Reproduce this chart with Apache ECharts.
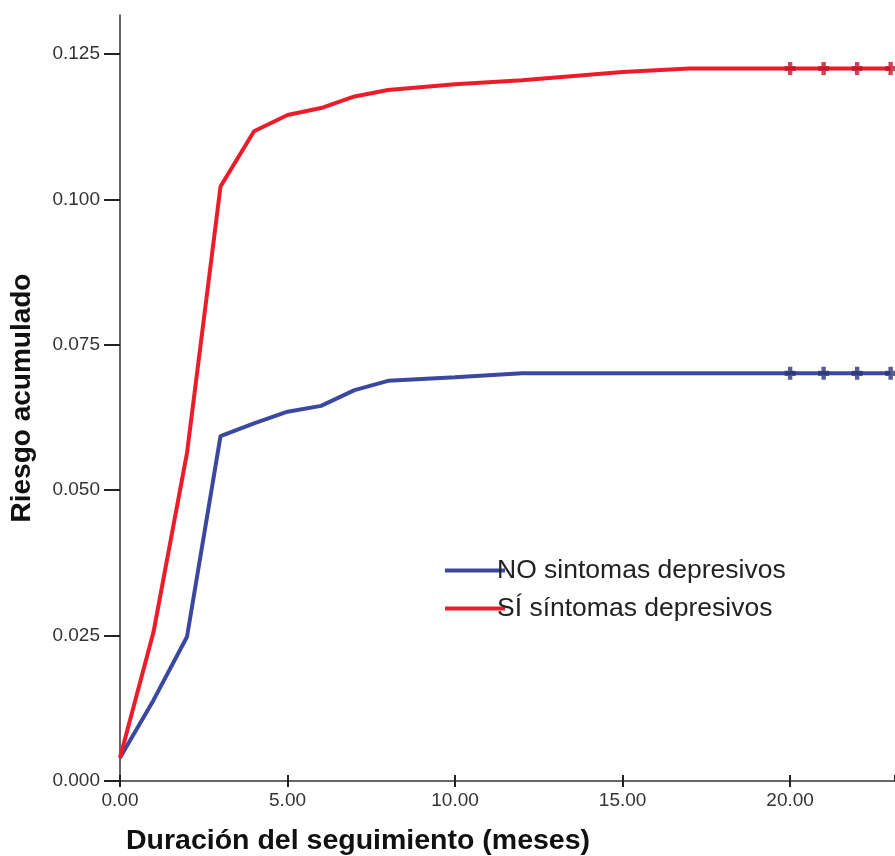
<!DOCTYPE html>
<html>
<head>
<meta charset="utf-8">
<script src="https://cdn.jsdelivr.net/npm/echarts@6/dist/echarts.min.js"></script>
<style>html,body{margin:0;padding:0;background:#fff}#c{width:895px;height:856px}</style>
</head>
<body>
<div id="c"></div>
<script>
const tiempo = [0, 1, 2, 3, 4, 5, 6, 7, 8, 10, 12, 15, 17, 20, 21, 22, 23];
const riesgoNo = [0.004, 0.0139, 0.0248, 0.0593, 0.0615, 0.0635, 0.0645, 0.0672, 0.0688, 0.0694, 0.0701, 0.0701, 0.0701, 0.0701, 0.0701, 0.0701, 0.0701];
const riesgoSi = [0.004, 0.0256, 0.0564, 0.1022, 0.1117, 0.1145, 0.1157, 0.1177, 0.1188, 0.1198, 0.1205, 0.1219, 0.1225, 0.1225, 0.1225, 0.1225, 0.1225];
const censurasT = [20, 21, 22, 23];
const censurasNo = [0.0701, 0.0701, 0.0701, 0.0701];
const censurasSi = [0.1225, 0.1225, 0.1225, 0.1225];
const nombres = ['NO sintomas depresivos', 'SÍ síntomas depresivos'];
const colores = ['#3b48a0', '#ec1c2a'];

const chart = echarts.init(document.getElementById('c'));
const pair = (xs, ys) => xs.map((x, i) => [x, ys[i]]);
const cross = 'path://M3,0 L7,0 L7,3 L10,3 L10,7 L7,7 L7,10 L3,10 L3,7 L0,7 L0,3 L3,3 Z';
const FONT = 'Liberation Sans, Arial, sans-serif';
chart.setOption({
  backgroundColor: '#ffffff',
  animation: false,
  title: {
    text: 'Duración del seguimiento (meses)',
    left: 121, top: 822,
    textStyle: {fontFamily: FONT, fontSize: 28.5, fontWeight: 'bold', color: '#111'}
  },
  legend: {
    left: 440, top: 552, orient: 'vertical',
    itemWidth: 60, itemHeight: 4, itemGap: 11,
    icon: 'rect',
    data: nombres,
    textStyle: {fontFamily: FONT, fontSize: 26.5, color: '#222', padding: [0,0,0,-13]}
  },
  grid: {left: 120, right: 0, top: 15, bottom: 75, containLabel: false},
  xAxis: [{
    type: 'value', min: 0, max: 23.13, interval: 5,
    axisLine: {show: true, lineStyle: {color: '#333', width: 1.5}},
    axisTick: {show: true, length: 6, lineStyle: {color: '#222', width: 2}},
    axisLabel: {showMaxLabel: false, formatter: v => v.toFixed(2), fontFamily: FONT, fontSize: 19, color: '#333', margin: 10},
    splitLine: {show: false}
  }, {
    type: 'value', min: 0, max: 23.13, interval: 5, position: 'bottom',
    axisLine: {show: false},
    axisTick: {show: true, inside: true, length: 6, lineStyle: {color: '#222', width: 2}},
    axisLabel: {show: false},
    splitLine: {show: false}
  }],
  yAxis: {
    type: 'value', min: 0, max: 0.1317, interval: 0.025,
    name: 'Riesgo acumulado', nameLocation: 'middle', nameGap: 84, nameRotate: 90,
    nameTextStyle: {fontFamily: FONT, fontSize: 28, fontWeight: 'bold', color: '#111'},
    axisLine: {show: true, lineStyle: {color: '#333', width: 1.5}},
    axisTick: {show: true, length: 16, lineStyle: {color: '#222', width: 2}},
    axisLabel: {showMaxLabel: false, formatter: v => v.toFixed(3), fontFamily: FONT, fontSize: 19, color: '#333', margin: 20},
    splitLine: {show: false}
  },
  series: [
    {name: nombres[0], type: 'line', data: pair(tiempo, riesgoNo), symbol: 'none', lineStyle: {color: colores[0], width: 4}, itemStyle: {color: colores[0]}, z: 3},
    {name: nombres[1], type: 'line', data: pair(tiempo, riesgoSi), symbol: 'none', lineStyle: {color: colores[1], width: 4}, itemStyle: {color: colores[1]}, z: 3},
    {name: 'cNo', type: 'scatter', data: pair(censurasT, censurasNo), symbol: cross, symbolSize: [11, 13], itemStyle: {color: '#2c3577'}, z: 4},
    {name: 'cSi', type: 'scatter', data: pair(censurasT, censurasSi), symbol: cross, symbolSize: [11, 13], itemStyle: {color: '#c4142a'}, z: 4}
  ]
});
</script>
</body>
</html>
